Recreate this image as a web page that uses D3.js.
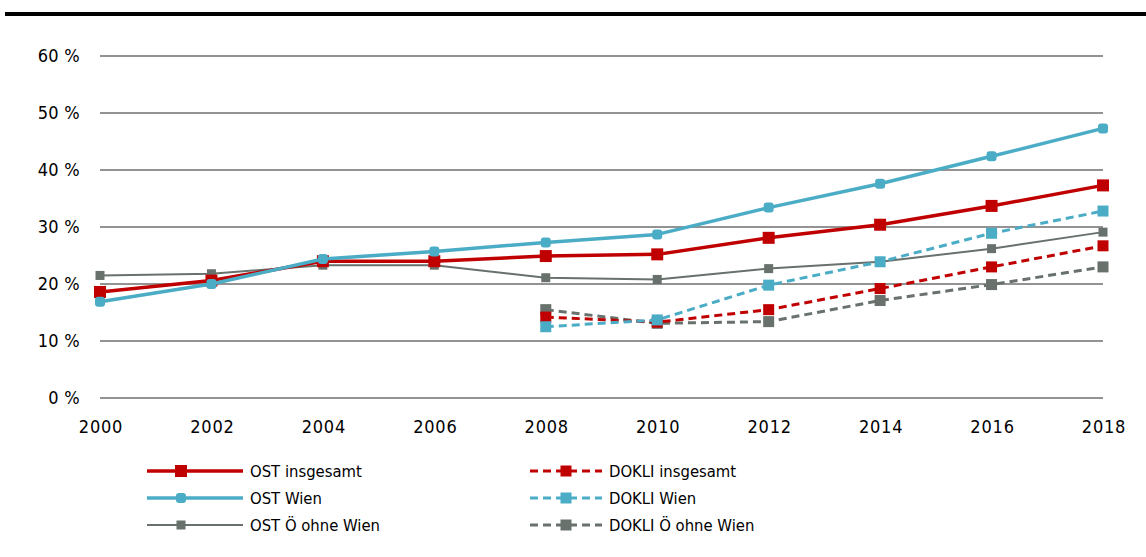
<!DOCTYPE html>
<html>
<head>
<meta charset="utf-8">
<script src="https://cdn.jsdelivr.net/npm/d3@7"></script>
<style>
  html, body { margin: 0; padding: 0; background: #fff; }
  svg text { font-family: "DejaVu Sans Condensed", "DejaVu Sans", sans-serif; fill: #000; }
</style>
</head>
<body>
<svg id="chart" width="1146" height="557"></svg>
<script>
// Years on the x axis
const years = [2000, 2002, 2004, 2006, 2008, 2010, 2012, 2014, 2016, 2018];
// Y axis ticks (percent)
const yTicks = [0, 10, 20, 30, 40, 50, 60];

// Series values in percent (null = no survey)
const ostInsgesamt   = [18.6, 20.6, 24.0, 24.0, 24.9, 25.2, 28.1, 30.4, 33.7, 37.3];
const ostWien        = [16.9, 20.0, 24.4, 25.7, 27.3, 28.7, 33.4, 37.6, 42.4, 47.3];
const ostOhneWien    = [21.5, 21.8, 23.3, 23.3, 21.1, 20.8, 22.7, 23.9, 26.2, 29.1];
const dokliInsgesamt = [null, null, null, null, 14.2, 13.3, 15.5, 19.2, 23.0, 26.7];
const dokliWien      = [null, null, null, null, 12.5, 13.7, 19.8, 23.9, 28.9, 32.8];
const dokliOhneWien  = [null, null, null, null, 15.5, 13.1, 13.4, 17.1, 19.9, 23.0];

const seriesNames = ["OST insgesamt", "OST Wien", "OST Ö ohne Wien",
                     "DOKLI insgesamt", "DOKLI Wien", "DOKLI Ö ohne Wien"];

const RED = "#c00000", BLUE = "#4bacc6", GRAY = "#68716c";

const series = [
  { name: seriesNames[0], values: ostInsgesamt,   color: RED,  width: 3.5, dash: null,  marker: 12 },
  { name: seriesNames[1], values: ostWien,        color: BLUE, width: 3.5, dash: null,  marker: 10, round: true },
  { name: seriesNames[2], values: ostOhneWien,    color: GRAY, width: 2,   dash: null,  marker: 9 },
  { name: seriesNames[3], values: dokliInsgesamt, color: RED,  width: 3,   dash: "8,5", marker: 11 },
  { name: seriesNames[4], values: dokliWien,      color: BLUE, width: 3,   dash: "8,5", marker: 11 },
  { name: seriesNames[5], values: dokliOhneWien,  color: GRAY, width: 3,   dash: "8,5", marker: 11 }
];

const svg = d3.select("#chart");

// Heavy rule across the top
svg.append("rect").attr("x", 5).attr("y", 12).attr("width", 1141).attr("height", 4).attr("fill", "#000");

const x = d3.scalePoint().domain(years).range([100, 1103]);
const y = d3.scaleLinear().domain([0, 60]).range([398, 56]);

// Horizontal gridlines
svg.append("g").selectAll("line").data(yTicks).join("line")
  .attr("x1", 100).attr("x2", 1103)
  .attr("y1", d => y(d)).attr("y2", d => y(d))
  .attr("stroke", "#6f6f6f").attr("stroke-width", 1.5);

// Y axis labels
svg.append("g").selectAll("text").data(yTicks).join("text")
  .attr("x", 80).attr("y", d => y(d)).attr("dy", "0.36em")
  .attr("text-anchor", "end").attr("font-size", 18)
  .attr("letter-spacing", 0.3)
  .text(d => d + " %");

// X axis labels
svg.append("g").selectAll("text").data(years).join("text")
  .attr("x", d => x(d) + 1).attr("y", 433)
  .attr("text-anchor", "middle").attr("font-size", 18)
  .attr("letter-spacing", 0.8)
  .text(d => d);

const line = d3.line()
  .defined(d => d.v !== null)
  .x(d => x(d.year)).y(d => y(d.v));

function drawMarker(g, cx, cy, s) {
  const size = s.marker;
  g.append("rect")
    .attr("x", cx - size / 2).attr("y", cy - size / 2)
    .attr("width", size).attr("height", size)
    .attr("rx", s.round ? 3 : 0)
    .attr("fill", s.color);
}

// Draw in back-to-front order
const order = [2, 5, 3, 4, 0, 1];
order.forEach(i => {
  const s = series[i];
  const pts = years.map((yr, k) => ({ year: yr, v: s.values[k] }));
  const g = svg.append("g");
  g.append("path").datum(pts)
    .attr("d", line)
    .attr("fill", "none")
    .attr("stroke", s.color)
    .attr("stroke-width", s.width)
    .attr("stroke-dasharray", s.dash)
    .attr("stroke-linejoin", "round");
  pts.filter(p => p.v !== null).forEach(p => drawMarker(g, x(p.year), y(p.v), s));
});

// Legend
const legendRows = [471, 498, 525];
series.forEach((s, i) => {
  const col = i < 3 ? 0 : 1;
  const row = i % 3;
  const ly = legendRows[row];
  const x0 = col === 0 ? 147 : 530;
  const x1 = col === 0 ? 243 : 602;
  const g = svg.append("g");
  g.append("line")
    .attr("x1", x0).attr("x2", x1).attr("y1", ly).attr("y2", ly)
    .attr("stroke", s.color).attr("stroke-width", s.width)
    .attr("stroke-dasharray", s.dash);
  drawMarker(g, col === 0 ? 181 : 566, ly, s);
  g.append("text")
    .attr("x", col === 0 ? 250 : 609).attr("y", ly).attr("dy", "0.36em")
    .attr("font-size", 16.5)
    .text(s.name);
});
</script>
</body>
</html>
